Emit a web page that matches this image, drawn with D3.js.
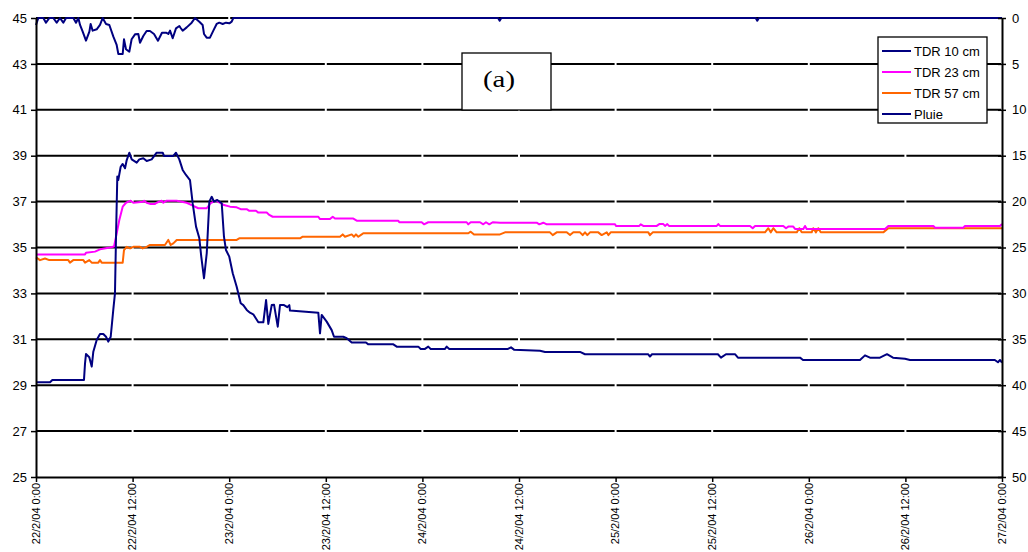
<!DOCTYPE html>
<html>
<head>
<meta charset="utf-8">
<script src="https://cdn.jsdelivr.net/npm/d3@7/dist/d3.min.js"></script>
<style>
  html, body { margin: 0; padding: 0; background: #fff; }
  svg { display: block; font-family: "Liberation Sans", Arial, sans-serif; }
</style>
</head>
<body>
<svg id="chart" width="1028" height="552"></svg>
<script>
// Time of each reading is given in hours after 22/2/04 0:00.
const startDate = new Date(2004, 1, 22, 0, 0, 0);
const tickHours = [0, 12, 24, 36, 48, 60, 72, 84, 96, 108, 120];
const leftTicks = [25, 27, 29, 31, 33, 35, 37, 39, 41, 43, 45];
const rightTicks = [0, 5, 10, 15, 20, 25, 30, 35, 40, 45, 50];
const seriesNames = ["TDR 10 cm", "TDR 23 cm", "TDR 57 cm", "Pluie"];

// Water content (%) at 10 cm
const tdr10 = [
  [0,29.13],[1.74,29.13],[2.03,29.23],[5.96,29.23],[6.09,29.95],[6.21,30.36],[6.62,30.22],[6.92,29.81],
  [7.12,30.46],[7.54,30.97],[7.95,31.23],[8.36,31.23],[8.70,31.11],[8.98,30.90],[9.28,31.11],[9.60,32.28],
  [9.81,33.0],[9.94,35.47],[10.10,38.09],[10.22,37.94],[10.52,38.52],[10.77,38.64],[11.06,38.45],[11.27,38.81],
  [11.59,39.13],[11.89,38.84],[12.51,38.70],[12.83,38.84],[13.33,38.89],[13.75,38.77],[14.37,38.84],[14.99,39.13],
  [15.74,39.13],[15.90,38.99],[17.06,38.99],[17.39,39.13],[17.80,38.84],[18.22,38.38],[18.63,38.16],[19.13,37.94],
  [19.46,36.93],[19.88,35.91],[20.29,35.40],[20.53,34.60],[20.87,33.66],[21.21,34.75],[21.53,37.0],[21.83,37.21],
  [22.11,37.0],[22.52,37.07],[23.07,36.93],[23.35,35.47],[23.60,34.89],[24.01,34.60],[24.44,33.88],[24.93,33.29],
  [25.43,32.57],[25.75,32.49],[26.18,32.28],[26.58,32.16],[26.99,32.09],[27.62,31.74],[28.24,31.74],[28.58,32.71],
  [28.86,31.67],[29.28,32.49],[29.57,32.51],[30.03,31.55],[30.31,32.49],[30.81,32.49],[31.22,32.40],[31.47,32.49],
  [31.55,32.25],[35.07,32.16],[35.28,31.26],[35.49,32.06],[36.11,31.77],[36.73,31.40],[37.02,31.11],[38.17,31.11],
  [38.60,31.05],[39.22,30.86],[40.99,30.86],[41.28,30.78],[44.39,30.78],[44.81,30.68],[47.49,30.68],[47.79,30.58],
  [48.32,30.58],[48.73,30.68],[49.03,30.58],[50.81,30.58],[51.02,30.68],[51.34,30.58],[57.64,30.58],[58.63,30.58],
  [59.01,30.65],[59.38,30.55],[62.61,30.50],[63.23,30.45],[67.58,30.45],[68.20,30.35],[76.03,30.35],[76.27,30.25],
  [76.52,30.35],[84.71,30.35],[85.09,30.20],[85.71,30.35],[86.83,30.35],[87.20,30.20],[94.91,30.20],[95.28,30.10],
  [102.36,30.10],[102.98,30.30],[103.60,30.20],[104.84,30.20],[105.71,30.35],[106.46,30.20],[107.95,30.15],
  [108.57,30.10],[119.11,30.10],[119.50,30.00],[119.75,30.10],[120,29.98]
];

// Water content (%) at 23 cm
const tdr23 = [
  [0,34.70],[6.09,34.70],[6.21,34.77],[7.33,34.82],[7.95,34.92],[9.19,35.0],[9.69,35.04],[9.94,35.47],
  [10.35,36.2],[10.77,36.78],[11.18,36.95],[11.76,37.04],[12.09,36.95],[13.33,36.99],[13.42,37.04],[13.75,36.95],
  [14.16,36.90],[14.78,36.90],[14.99,36.95],[15.61,37.04],[15.82,36.95],[16.24,37.04],[17.48,37.04],[18.72,36.95],
  [19.34,36.85],[20.16,36.71],[21.21,36.71],[21.70,36.93],[22.36,37.04],[22.86,36.95],[23.35,36.85],[24.10,36.78],
  [24.93,36.75],[25.43,36.67],[26.17,36.67],[26.50,36.60],[27.33,36.60],[27.62,36.52],[28.66,36.52],[28.98,36.42],
  [29.40,36.34],[35.07,36.34],[35.28,36.24],[36.52,36.24],[36.86,36.34],[37.14,36.26],[39.42,36.26],[39.84,36.17],
  [45.01,36.17],[45.13,36.10],[47.91,36.10],[48.20,36.01],[48.73,36.10],[53.50,36.10],[53.70,36.01],[54.00,36.10],
  [55.16,36.10],[55.56,36.01],[55.90,36.10],[56.31,36.01],[56.73,36.10],[57.64,36.08],[62.20,36.08],[62.52,36.01],
  [63.02,36.08],[63.44,36.01],[71.93,36.01],[72.05,35.94],[74.94,35.94],[75.12,36.01],[75.44,35.94],[77.11,35.94],
  [77.43,36.02],[77.93,36.02],[78.14,35.94],[78.42,36.02],[78.63,35.94],[84.56,35.94],[84.76,36.02],[84.97,35.94],
  [88.70,35.94],[89.03,35.84],[89.32,35.94],[92.83,35.94],[93.17,35.84],[93.45,35.91],[94.07,35.91],[94.29,35.81],
  [95.32,35.81],[95.53,35.94],[95.74,35.81],[105.47,35.81],[105.88,35.94],[111.47,35.94],[111.68,35.86],
  [115.19,35.86],[115.40,35.94],[119.75,35.94],[120,36.02]
];

// Water content (%) at 57 cm
const tdr57 = [
  [0,34.57],[0.50,34.45],[1.12,34.52],[1.65,34.45],[4.01,34.45],[4.22,34.34],[4.63,34.45],[5.88,34.45],
  [6.09,34.34],[6.62,34.45],[6.92,34.34],[7.74,34.34],[7.95,34.45],[8.16,34.34],[10.43,34.34],[10.77,34.34],
  [10.93,34.89],[11.27,35.03],[11.68,34.96],[12.09,35.03],[12.92,35.03],[13.25,34.96],[13.75,35.03],[14.16,35.11],
  [16.02,35.11],[16.43,35.33],[16.73,35.11],[17.06,35.18],[17.48,35.33],[24.93,35.33],[25.25,35.40],[32.80,35.40],
  [33.13,35.47],[37.76,35.47],[38.10,35.57],[38.38,35.47],[39.22,35.57],[39.50,35.47],[39.75,35.57],[40.04,35.47],
  [40.46,35.57],[40.66,35.62],[53.70,35.62],[54.00,35.69],[54.41,35.57],[57.64,35.57],[58.26,35.66],[63.85,35.66],
  [64.19,35.54],[64.68,35.66],[65.93,35.66],[66.34,35.54],[66.75,35.66],[67.58,35.66],[67.91,35.54],[68.20,35.66],
  [68.49,35.54],[68.82,35.66],[69.85,35.66],[70.27,35.54],[70.90,35.66],[71.10,35.54],[71.39,35.66],[76.06,35.66],
  [76.27,35.54],[76.61,35.66],[90.56,35.66],[90.97,35.84],[91.27,35.66],[91.59,35.84],[92.01,35.66],[94.50,35.66],
  [94.82,35.84],[95.12,35.66],[96.36,35.66],[96.56,35.84],[96.89,35.66],[97.18,35.84],[97.48,35.66],[105.25,35.66],
  [105.88,35.84],[120,35.84]
];

// Rainfall (mm), right axis, plotted downward
const pluie = [
  [0,0.76],[0.29,0],[0.91,0],[1.24,0.51],[1.66,0],[2.15,0],[2.57,0.51],[2.98,0],[3.39,0.51],[3.73,0],
  [4.22,0],[4.64,0],[4.97,0.51],[5.26,0],[5.47,0.76],[5.80,1.49],[6.21,2.47],[6.63,1.49],[6.79,0.65],[7.04,1.38],
  [7.54,1.23],[7.95,0.76],[8.28,0],[8.70,0.65],[9.11,0.76],[9.61,2.03],[10.02,2.94],[10.23,3.92],[10.77,3.92],
  [10.93,2.32],[11.18,3.41],[11.59,3.67],[11.88,2.32],[12.30,1.78],[12.71,1.74],[12.92,2.69],[13.33,1.96],
  [13.74,1.42],[14.16,1.42],[14.66,1.74],[15.15,2.47],[15.65,1.60],[16.15,1.60],[16.44,1.74],[16.65,1.38],
  [16.98,2.21],[17.39,1.13],[17.81,0.87],[17.97,1.09],[18.22,1.38],[18.72,1.02],[19.34,0.51],[19.75,0],
  [20.29,0.40],[20.70,0.76],[20.87,1.74],[21.20,2.14],[21.61,2.14],[22.03,1.38],[22.44,0.65],[22.77,0.51],
  [23.19,0.65],[23.60,0.51],[24.02,0.58],[24.31,0.40],[24.51,0],[57.4,0],[57.6,0.3],[57.8,0],[89.4,0],
  [89.6,0.3],[89.8,0],[120,0]
];

const colors = ["#000080", "#FF00FF", "#FF6600", "#000080"];

const svg = d3.select("#chart");
const margin = { left: 36, right: 26, top: 18, bottom: 75 };
const W = 1028, H = 552;
const x0 = margin.left, x1 = W - margin.right, y0 = margin.top, y1 = H - margin.bottom;

const toDate = h => new Date(startDate.getTime() + h * 3600e3);
const x = d3.scaleTime().domain([toDate(0), toDate(120)]).range([x0, x1]);
const y = d3.scaleLinear().domain([25, 45]).range([y1, y0]);
const yR = d3.scaleLinear().domain([0, 50]).range([y0, y1]);
const tickDates = tickHours.map(toDate);

// Horizontal gridlines, broken slightly where each date tick falls
const gap = 1;
const grid = svg.append("g").attr("stroke", "#000").attr("stroke-width", 2);
leftTicks.filter(v => v !== 25).forEach(v => {
  for (let i = 0; i < tickDates.length - 1; i++) {
    const a = x(tickDates[i]) + (i === 0 ? 0 : gap);
    const b = x(tickDates[i + 1]) - gap;
    grid.append("line").attr("x1", a).attr("x2", b).attr("y1", y(v)).attr("y2", y(v));
  }
});

// Series lines
const lineL = d3.line().x(d => x(toDate(d[0]))).y(d => y(d[1]));
const lineR = d3.line().x(d => x(toDate(d[0]))).y(d => yR(d[1]));
const plotG = svg.append("g").attr("fill", "none").attr("stroke-width", 2).attr("stroke-linejoin", "round");
plotG.append("path").datum(tdr57).attr("d", lineL).attr("stroke", colors[2]);
plotG.append("path").datum(tdr23).attr("d", lineL).attr("stroke", colors[1]);
plotG.append("path").datum(tdr10).attr("d", lineL).attr("stroke", colors[0]);
plotG.append("path").datum(pluie).attr("d", lineR).attr("stroke", colors[3]);

// Left axis
const gl = svg.append("g").attr("transform", `translate(${x0},0)`)
  .call(d3.axisLeft(y).tickValues(leftTicks).tickSize(5).tickSizeOuter(0).tickPadding(4).tickFormat(d3.format("d")));
// Right axis (rain), ticks crossing the line
const gr = svg.append("g").attr("transform", `translate(${x1},0)`)
  .call(d3.axisRight(yR).tickValues(rightTicks).tickSize(4).tickSizeOuter(0).tickPadding(6).tickFormat(d3.format("d")));
gr.selectAll(".tick line").attr("x1", -4);
// Bottom axis
const gb = svg.append("g").attr("transform", `translate(0,${y1})`)
  .call(d3.axisBottom(x).tickValues(tickDates).tickSize(5).tickSizeOuter(0).tickFormat(""));

[gl, gr, gb].forEach(g => {
  g.select(".domain").attr("stroke", "#000").attr("stroke-width", 2);
  g.selectAll(".tick line").attr("stroke", "#000").attr("stroke-width", 1.5);
  g.selectAll("text").attr("fill", "#000").style("font-size", "13px")
    .style("font-family", '"Liberation Sans", Arial, sans-serif');
});

// Rotated date labels
const fmt = d => `${d.getDate()}/${d.getMonth() + 1}/04 ${d.getHours()}:00`;
svg.append("g").selectAll("text").data(tickDates).join("text")
  .attr("transform", d => `translate(${x(d)},${y1 + 6}) rotate(-90)`)
  .attr("text-anchor", "end").attr("dy", "0.35em")
  .style("font-size", "11px").attr("fill", "#000")
  .text(fmt);

// Panel label
const pl = svg.append("g");
pl.append("rect").attr("x", 462).attr("y", 53).attr("width", 89).attr("height", 57)
  .attr("fill", "#fff").attr("stroke", "#000").attr("stroke-width", 1.3);
pl.append("text").attr("transform", "translate(499,87) scale(1.2,1)")
  .attr("text-anchor", "middle").style("font-family", '"Liberation Serif", "Times New Roman", serif')
  .style("font-weight", "normal").style("font-size", "24px").attr("fill", "#000").text("(a)");

// Legend
const lg = svg.append("g").attr("transform", "translate(878,37)");
lg.append("rect").attr("width", 109).attr("height", 86)
  .attr("fill", "#fff").attr("stroke", "#000").attr("stroke-width", 1.3);
seriesNames.forEach((n, i) => {
  const row = lg.append("g").attr("transform", `translate(0,${14 + i * 21})`);
  row.append("line").attr("x1", 4).attr("x2", 33).attr("stroke", colors[i]).attr("stroke-width", 2);
  row.append("text").attr("x", 36).attr("dy", "0.35em").style("font-size", "13px").attr("fill", "#000").text(n);
});
</script>
</body>
</html>
